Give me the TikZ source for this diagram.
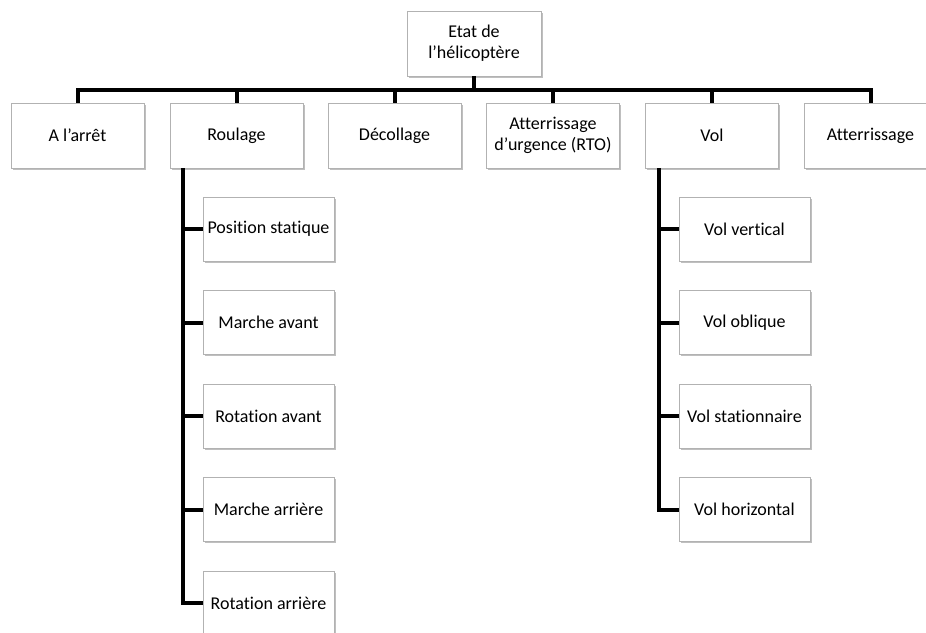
\documentclass[tikz,border=0pt]{standalone}
\usepackage{fontspec}
\setmainfont{Carlito}[Ligatures={NoCommon}]
\usetikzlibrary{shadows}
\begin{document}
\begin{tikzpicture}[x=1pt,y=-1pt,
  box/.style={draw=gray!60, line width=0.8pt, fill=white, align=center,
    inner sep=0pt, text=black,
    font=\fontsize{18}{21}\selectfont,
    drop shadow={shadow xshift=1.6pt, shadow yshift=-1.8pt, opacity=0.5, fill=gray}},
  rowbox/.style={box, minimum width=133pt, minimum height=65pt},
  subbox/.style={box, minimum width=131pt, minimum height=64pt},
  link/.style={line width=4pt, draw=black}]
\clip (0,0) rectangle (926,632);
\fill[white] (0,0) rectangle (926,632);
% top
\node[rowbox, minimum width=134pt] (top) at (474,43.5) {Etat de\\l’hélicoptère};
% row
\node[rowbox] (arret) at (77.5,135.5) {A l’arrêt};
\node[rowbox] (roul) at (236.5,135.5) {Roulage};
\node[rowbox] (deco) at (394.5,135.5) {Décollage};
\node[rowbox] (rto) at (553,135.5) {Atterrissage\\d’urgence (RTO)};
\node[rowbox] (vol) at (712,135.5) {Vol};
\node[rowbox] (atter) at (870.5,135.5) {Atterrissage};
% Roulage children
\node[subbox] (ps) at (268.5,229) {Position statique};
\node[subbox] (mav) at (268.5,322.5) {Marche avant};
\node[subbox] (rav) at (268.5,416) {Rotation avant};
\node[subbox] (mar) at (268.5,509.5) {Marche arrière};
\node[subbox] (rar) at (268.5,603) {Rotation arrière};
% Vol children
\node[subbox] (vv) at (744.5,229) {Vol vertical};
\node[subbox] (vo) at (744.5,322.5) {Vol oblique};
\node[subbox] (vs) at (744.5,416) {Vol stationnaire};
\node[subbox] (vh) at (744.5,509.5) {Vol horizontal};
% bus
\coordinate (bus) at (474,90);
\draw[link] (top.south) -- (bus);
\draw[link] (arret.north) |- (bus) -| (atter.north);
\foreach \n in {roul,deco,rto,vol}{\draw[link] (\n.north) -- (\n.north |- bus);}
% Roulage trunk
\coordinate (rt) at (183,168);
\draw[link] (rt) |- (rar.west);
\foreach \n in {ps,mav,rav,mar}{\draw[link] (\n.west) -- (\n.west -| rt);}
% Vol trunk
\coordinate (vt) at (659,168);
\draw[link] (vt) |- (vh.west);
\foreach \n in {vv,vo,vs}{\draw[link] (\n.west) -- (\n.west -| vt);}
\end{tikzpicture}
\end{document}
